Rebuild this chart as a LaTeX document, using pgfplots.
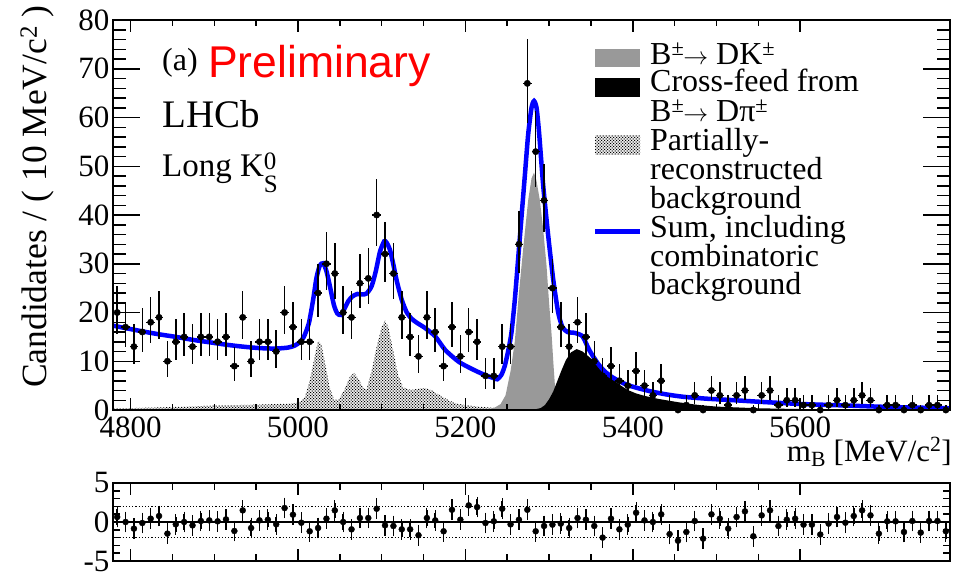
\documentclass[border=0pt]{standalone}
\usepackage{pgfplots}
\pgfplotsset{compat=1.18}
\usepackage{pgfplotstable}
\usepackage{fontspec}
\setmainfont{Liberation Serif}
\newfontfamily\helv{Liberation Sans}
\usetikzlibrary{patterns}
\definecolor{rootgrey}{RGB}{153,153,153}
\pgfdeclarepatternformonly{rootdots}{\pgfqpoint{-1pt}{-1pt}}{\pgfqpoint{4pt}{4pt}}{\pgfqpoint{3pt}{3pt}}{%
  \pgfpathcircle{\pgfqpoint{0pt}{0pt}}{0.75pt}%
  \pgfpathcircle{\pgfqpoint{1.5pt}{1.5pt}}{0.75pt}%
  \pgfusepath{fill}}

\pgfplotstableread{
x n
4784 20
4794 17
4804 13
4814 16
4824 18
4834 19
4844 10
4854 14
4864 15
4874 13
4884 15
4894 15
4904 14
4914 15
4924 9
4934 19
4944 10
4954 14
4964 14
4974 12
4984 20
4994 17
5004 14
5014 14
5024 24
5034 30
5044 28
5054 20
5064 19
5074 26
5084 27
5094 40
5104 32
5114 28
5124 19
5134 15
5144 11
5154 19
5164 16
5174 9
5184 17
5194 11
5204 16
5214 14
5224 7
5234 7
5244 13
5254 13
5264 34
5274 67
5284 53
5294 43
5304 25
5314 17
5324 13
5334 18
5344 15
5354 10
5364 7
5374 9
5384 6
5394 5
5404 8
5414 5
5424 3
5434 6
5444 1
5454 0
5464 1
5474 3
5484 0
5494 4
5504 3
5514 1
5524 3
5534 4
5544 0
5554 3
5564 4
5574 1
5584 2
5594 2
5604 1
5614 1
5624 0
5634 1
5644 2
5654 1
5664 2
5674 3
5684 2
5694 0
5704 1
5714 1
5724 0
5734 1
5744 0
5754 1
5764 1
5774 0
}\datatable

\pgfplotstableread{
x p
4784 0.64
4794 0
4804 -0.85
4814 -0.13
4824 0.43
4834 0.77
4844 -1.49
4854 -0.30
4864 0
4874 -0.43
4884 0.13
4894 0.21
4904 0.09
4914 0.34
4924 -1.15
4934 1.49
4944 -0.77
4954 0.21
4964 0.30
4974 -0.30
4984 1.79
4994 0.94
5004 -0.09
5014 -1.19
5024 -0.77
5034 0.43
5044 1.49
5054 0
5064 -0.94
5074 0.51
5084 0.51
5094 1.70
5104 -0.43
5114 -0.51
5124 -0.94
5134 -0.94
5144 -1.70
5154 0.51
5164 0.21
5174 -1.19
5184 1.57
5194 0.30
5204 2.13
5214 1.91
5224 -0.13
5234 0.09
5244 1.70
5254 -0.30
5264 0.30
5274 1.57
5284 -1.19
5294 -0.51
5304 -0.34
5314 -0.21
5324 -0.77
5334 0.51
5344 0.30
5354 -0.51
5364 -2.00
5374 0.43
5384 -0.94
5394 -0.34
5404 1.19
5414 0.21
5424 0
5434 0.98
5444 -1.55
5454 -2.40
5464 -1.28
5474 0.13
5484 -2.13
5494 0.98
5504 0.43
5514 -0.85
5524 0.64
5534 1.36
5544 -1.83
5554 0.85
5564 1.49
5574 -0.51
5584 0.30
5594 0.43
5604 -0.34
5614 -0.34
5624 -1.60
5634 -0.21
5644 0.64
5654 -0.09
5664 0.77
5674 1.49
5684 0.85
5694 -1.49
5704 0.09
5714 0.09
5724 -1.28
5734 0.13
5744 -1.36
5754 0.13
5764 0.13
5774 -1.19
}\pulltable

\pgfplotsset{
  every tick label/.append style={font=\fontsize{31}{31}\selectfont},
  /pgf/number format/assume math mode=true,
  /pgf/number format/1000 sep={},
  common/.style={
    anchor=south west, scale only axis, width=837pt,
    xmin=4779, xmax=5779,
    axis line style={line width=2pt},
    tick style={black, line width=1.5pt},
    axis background/.style={fill=none},
  },
}

\begin{document}
\begin{tikzpicture}[x=1pt,y=1pt]
\useasboundingbox (0,0) rectangle (953,571);

% ---------------- main axis: data and components, y ticks
\begin{axis}[common, at={(113pt,161pt)}, height=390pt,
  ymin=0, ymax=80, xtick=\empty,
  ytick={0,10,...,80}, minor y tick num=4,
  major tick length=27pt, minor tick length=13pt]

% partially reconstructed background (dotted)
\addplot[draw=none, pattern=rootdots, pattern color=black] table {
4779 0.3
4850 0.6
4900 0.9
4950 1.1
4990 1.3
5000 1.5
5008 2.5
5014 6
5020 11
5024 14.2
5028 13.5
5033 9
5038 4.5
5043 2.2
5048 2.0
5055 4
5062 6.8
5067 7.6
5072 6.5
5078 4.5
5082 4.3
5088 8
5094 13
5100 17
5104 18.4
5108 17
5114 12
5120 7
5126 4.6
5135 4.1
5145 4.4
5152 4.5
5160 4
5170 3
5180 2
5190 1.3
5200 1
5215 0.7
5230 0.5
5245 0.3
5260 0
} \closedcycle;

% B -> DK signal (grey)
\addplot[draw=none, fill=rootgrey] table {
5225 0
5235 0.5
5242 1.2
5248 3
5254 8
5259 14
5264 24
5269 33
5275 43
5279 47.5
5282 48.7
5285 47
5289 43
5293 37
5297 29.5
5300 22
5303 15.5
5305 10
5307 5
5309 2
5312 0.5
5318 0
} \closedcycle;

% cross-feed (black)
\addplot[draw=none, fill=black] table {
5280 0
5290 0.4
5295 1
5300 2.2
5305 3.8
5310 6
5315 8.2
5320 10.2
5326 11.8
5333 12.5
5340 12.0
5347 11.0
5354 10.0
5364 8.2
5374 6.6
5384 5.2
5394 4.1
5404 3.4
5414 2.9
5430 2.3
5454 1.6
5480 1.0
5500 0.7
5550 0.35
5600 0.2
5700 0.1
5779 0.05
} \closedcycle;

% total fit (blue)
\addplot[blue, line width=4.5pt, smooth, tension=0.4] table {
4779 17.3
4800 16.6
4815 16.1
4835 15.5
4854 15.0
4874 14.4
4894 13.9
4914 13.4
4934 13.0
4954 12.7
4973 12.6
4988 12.8
4996 13.2
5002 13.9
5007 15.0
5013 17.8
5018 22.5
5022 27.0
5026 29.6
5030 30.1
5034 28.5
5038 25.5
5043 21.5
5047 19.8
5051 19.5
5055 20.6
5060 22.3
5065 23.3
5071 23.8
5077 23.7
5082 23.9
5088 25.4
5093 28.5
5098 32.5
5103 34.6
5106 34.3
5110 32.8
5114 29.8
5118 26.5
5124 22.6
5130 20.0
5136 18.7
5142 17.9
5152 16.8
5164 15.1
5176 12.3
5192 9.9
5208 8.4
5223 7.2
5233 6.6
5238 6.3
5243 7.2
5247 9.0
5251 12
5255 15.8
5259 22.5
5263 30.9
5267 39.5
5271 48
5275 56.5
5279 62
5282 63.4
5285 62
5288 57
5293 46
5299 35.7
5305 26.7
5311 19.9
5316 17.0
5322 16.0
5331 15.8
5340 15.1
5348 12.3
5358 9.6
5366 8.0
5374 6.9
5384 5.9
5394 5.1
5408 4.4
5422 3.8
5440 3.2
5461 2.7
5490 2.3
5517 2.05
5550 1.7
5598 1.25
5650 0.95
5700 0.65
5750 0.45
5779 0.35
};

% data
\addplot[black, only marks, mark=*, mark size=3.2pt,
  error bars/.cd, x dir=both, x fixed=5, y dir=both, y explicit,
  error mark=none, error bar style={line width=1.5pt}]
  table[x=x, y=n, y error plus expr={sqrt(\thisrow{n})+1}, y error minus expr={sqrt(\thisrow{n})}] {\datatable};
\end{axis}

% ---------------- main axis overlay: x ticks and labels
\begin{axis}[common, at={(113pt,161pt)}, height=390pt,
  ymin=0, ymax=80, ytick=\empty,
  xtick={4800,5000,5200,5400,5600}, minor x tick num=3,
  major tick length=12pt, minor tick length=6pt,
  xticklabel style={yshift=-3pt}]
\end{axis}

% ---------------- pull axis
\begin{axis}[common, at={(113pt,10pt)}, height=78pt,
  ymin=-5, ymax=5,
  xtick={4800,5000,5200,5400,5600}, minor x tick num=3, xticklabels={},
  ytick={-5,0,5}, minor y tick num=4,
  major tick length=12pt, minor tick length=7pt]
\addplot[black, line width=2pt] coordinates {(4779,0) (5779,0)};
\addplot[black, line width=1.2pt, dotted] coordinates {(4779,2) (5779,2)};
\addplot[black, line width=1.2pt, dotted] coordinates {(4779,-2) (5779,-2)};
\addplot[black, only marks, mark=*, mark size=3pt,
  error bars/.cd, y dir=both, y fixed=1,
  error bar style={line width=1.5pt},
  error mark options={black, mark size=2.5pt, line width=1.2pt}]
  table[x=x, y=p] {\pulltable};
\end{axis}

% ---------------- texts
\node[rotate=90, anchor=base east, inner sep=0pt, font=\fontsize{35.5}{35.5}\selectfont]
  at (46,566) {Candidates / ( 10 MeV/c\textsuperscript{2} )};
\node[anchor=base east, inner sep=0pt, font=\fontsize{31}{31}\selectfont]
  at (952,110) {m\textsubscript{B} [MeV/c\textsuperscript{2}]};

\node[anchor=base west, inner sep=0pt, font=\fontsize{32}{32}\selectfont] at (162,500) {(a)};
\node[anchor=base west, inner sep=0pt, text=red, font=\helv\fontsize{44.5}{44.5}\selectfont] at (208,493) {Preliminary};
\node[anchor=base west, inner sep=0pt, font=\fontsize{39}{39}\selectfont] at (162,443) {LHCb};
\node[anchor=base west, inner sep=0pt, font=\fontsize{33}{33}\selectfont] at (162,394)
  {Long K\rlap{\raisebox{7pt}{\fontsize{25}{25}\selectfont 0}}\raisebox{-16pt}{\fontsize{25}{25}\selectfont S}};

% legend
\fill[rootgrey] (595,504) rectangle (640,522);
\fill[black] (595,474.3) rectangle (640,492.7);
\fill[pattern=rootdots, pattern color=black] (595,416) rectangle (640,435);
\draw[blue, line width=4.5pt] (595,339.3) -- (640,339.3);
\begin{scope}[every node/.style={anchor=base west, inner sep=0pt, font=\fontsize{32}{32}\selectfont}]
\node at (650,506) {B\textsuperscript{±}\kern-1pt$\rightarrow$ DK\textsuperscript{±}};
\node at (650,479.3) {Cross-feed from};
\node at (650,449.3) {B\textsuperscript{±}\kern-1pt$\rightarrow$ Dπ\textsuperscript{±}};
\node at (650,420.3) {Partially-};
\node at (650,391) {reconstructed};
\node at (650,362.7) {background};
\node at (650,333.7) {Sum, including};
\node at (650,304.3) {combinatoric};
\node at (650,276) {background};
\end{scope}
\end{tikzpicture}
\end{document}
